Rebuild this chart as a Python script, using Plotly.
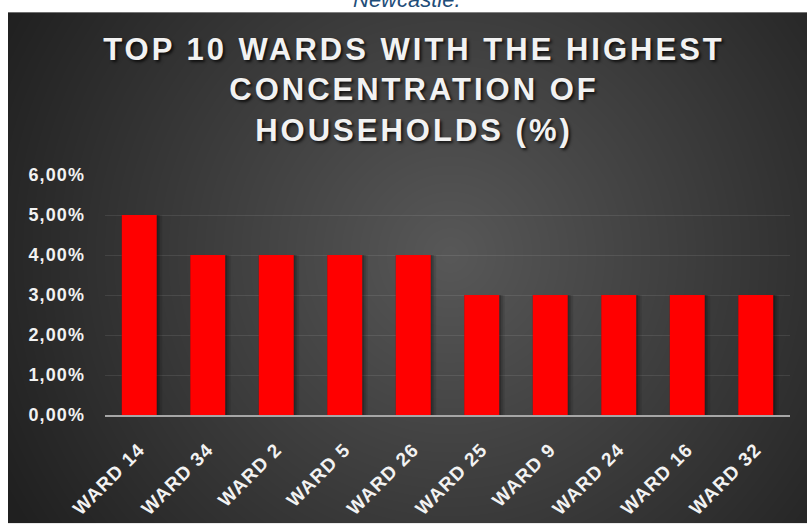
import base64
import struct
import zlib

import numpy as np
import plotly.graph_objects as go

# Household concentration by ward (share of all households)
wards = ["WARD 14", "WARD 34", "WARD 2", "WARD 5", "WARD 26",
         "WARD 25", "WARD 9", "WARD 24", "WARD 16", "WARD 32"]
share = [0.05, 0.04, 0.04, 0.04, 0.04, 0.03, 0.03, 0.03, 0.03, 0.03]
y_ticks = [0.0, 0.01, 0.02, 0.03, 0.04, 0.05, 0.06]

title_text = "TOP 10 WARDS WITH THE HIGHEST<br>CONCENTRATION OF<br>HOUSEHOLDS (%)"

W, H = 807, 526
M_L, M_R, M_T, M_B = 105, 17, 175, 109
PANEL_X0, PANEL_Y0 = 8, 11  # dark panel starts here (px)
BAR_W = 0.51


def radial_png(w, h, cx, cy, inner, slope, floor):
    """Grayscale PNG with a radial fade, returned as a data URI."""
    yy, xx = np.mgrid[0:h, 0:w]
    d = np.hypot(xx - cx, yy - cy)
    v = np.clip(inner - slope * d, floor, 255).astype(np.uint8)
    raw = b"".join(b"\x00" + row.tobytes() for row in v)

    def chunk(tag, data):
        c = struct.pack(">I", len(data)) + tag + data
        return c + struct.pack(">I", zlib.crc32(tag + data) & 0xFFFFFFFF)

    png = (b"\x89PNG\r\n\x1a\n"
           + chunk(b"IHDR", struct.pack(">IIBBBBB", w, h, 8, 0, 0, 0, 0))
           + chunk(b"IDAT", zlib.compress(raw, 9))
           + chunk(b"IEND", b""))
    return "data:image/png;base64," + base64.b64encode(png).decode()


pw, ph = W - PANEL_X0, H - PANEL_Y0
bg_src = radial_png(pw, ph, 450 - PANEL_X0, 255 - PANEL_Y0, 88, 0.11, 32)

plot_w = W - M_L - M_R
plot_h = H - M_T - M_B

fig = go.Figure()

# soft drop shadow behind each bar, built from the same values
for extra, alpha in [(0.08, 0.10), (0.05, 0.14), (0.025, 0.18)]:
    w = BAR_W + extra
    fig.add_trace(go.Bar(
        x=wards, y=share, width=w, offset=-BAR_W / 2,
        marker=dict(color=f"rgba(0,0,0,{alpha})", line=dict(width=0)),
        hoverinfo="skip",
    ))

fig.add_trace(go.Bar(
    x=wards, y=share, width=BAR_W,
    marker=dict(color="#FF0000", line=dict(width=0)),
    hoverinfo="x+y",
))

fig.add_layout_image(dict(
    source=bg_src, xref="paper", yref="paper",
    x=(PANEL_X0 - M_L) / plot_w, y=(H - M_B - PANEL_Y0) / plot_h,
    sizex=pw / plot_w, sizey=ph / plot_h,
    xanchor="left", yanchor="top", sizing="stretch", layer="below",
))

fig.add_annotation(
    text="<i>Newcastle.</i>", xref="paper", yref="paper",
    x=(407 - M_L) / plot_w, y=1, yanchor="bottom", xanchor="center",
    yshift=M_T - 14, showarrow=False,
    font=dict(family="Liberation Sans", size=22, color="#1F4E79"),
)

fig.update_layout(
    width=W, height=H,
    margin=dict(l=M_L, r=M_R, t=M_T, b=M_B, pad=0),
    paper_bgcolor="#FFFFFF", plot_bgcolor="rgba(0,0,0,0)",
    separators=",.",
    barmode="overlay",
    showlegend=False,
    title=dict(
        text=title_text, x=414 / W, xanchor="center",
        y=1 - 60 / H, yanchor="middle", yref="container",
        font=dict(family="Liberation Sans", size=31, color="#F2F2F2",
                  weight="bold", shadow="2px 2px 3px rgba(0,0,0,0.75)"),
    ),
    xaxis=dict(
        showline=True, linecolor="#A6A6A6", linewidth=2,
        showgrid=False, ticks="", tickangle=-45,
        ticklabelstandoff=14,
        tickfont=dict(family="Liberation Sans", size=19, color="#F2F2F2",
                      weight="bold"),
    ),
    yaxis=dict(
        range=[0, 0.06], tickvals=y_ticks, tickformat=".2%",
        showgrid=True, gridcolor="rgba(255,255,255,0.09)", gridwidth=1,
        zeroline=False, showline=False, ticks="",
        ticklabelstandoff=19,
        tickfont=dict(family="Liberation Sans", size=18, color="#F2F2F2",
                      weight="bold"),
    ),
)

spacing_js = """
var gd = document.getElementById('{plot_id}');
gd.querySelectorAll('.gtitle').forEach(function (t) { t.style.letterSpacing = '3px'; });
gd.querySelectorAll('.xtick text, .ytick text').forEach(function (t) { t.style.letterSpacing = '1.1px'; });
"""

fig.write_html("out.html", post_script=spacing_js)
